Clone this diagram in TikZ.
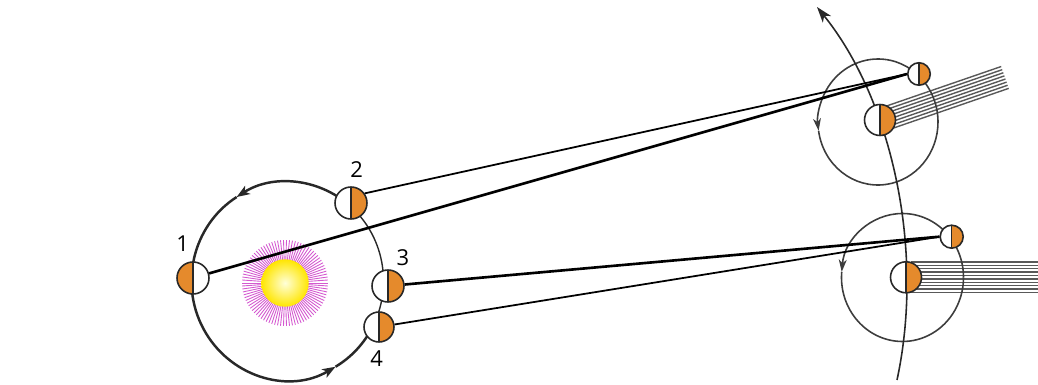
\documentclass[tikz,border=0pt]{standalone}
\usepackage{fontspec}
\setmainfont{Open Sans}
\usetikzlibrary{arrows.meta}
\definecolor{orangeside}{RGB}{229,138,44}
\definecolor{sunray}{RGB}{204,60,200}
\definecolor{darkline}{RGB}{40,40,40}
\tikzstyle{planet} = [circle, draw=darkline, line width=0.9pt, fill=white, inner sep=0pt, minimum size=0.64cm]
\tikzstyle{small_planet} = [planet, minimum size=0.45cm]
\tikzstyle{lit_right} = [path picture={\fill[orangeside] (path picture bounding box.north) rectangle (path picture bounding box.south east); \draw[darkline, line width=0.7pt] (path picture bounding box.north) -- (path picture bounding box.south);}]
\tikzstyle{lit_left} = [path picture={\fill[orangeside] (path picture bounding box.north) rectangle (path picture bounding box.south west); \draw[darkline, line width=0.7pt] (path picture bounding box.north) -- (path picture bounding box.south);}]
\tikzstyle{sun_core} = [circle, inner sep=0pt, minimum size=0.95cm, inner color=yellow!15!white, outer color=yellow!80!orange]
\tikzstyle{sun_ray} = [sunray!85, line width=0.5pt]
\tikzstyle{orbit_thick} = [darkline, line width=1.4pt, >={Stealth[length=7.5pt,width=5.5pt,inset=2pt]}]
\tikzstyle{orbit_thin} = [darkline, line width=0.8pt]
\tikzstyle{sight_thick} = [black, line width=1.5pt]
\tikzstyle{sight_thin} = [black, line width=1.0pt]
\tikzstyle{moon_orbit} = [darkline!90, line width=0.9pt, >={Stealth[length=7pt,width=4.5pt,inset=2pt]}]
\tikzstyle{track_line} = [darkline, line width=0.9pt, >={Stealth[length=9pt,width=6pt,inset=2.5pt]}]
\tikzstyle{ray_line} = [black!65, line width=0.8pt]
\tikzstyle{num_label} = [inner sep=1pt, font=\fontsize{12.5}{14}\selectfont]

\begin{document}
\begin{tikzpicture}[x=0.02cm, y=0.02cm]
\useasboundingbox (0,0) rectangle (1038,385);

% the sun
\foreach \a in {0,4,...,356}
	\draw[sun_ray] (285,102) ++(\a:19) -- ++(\a:24);
\node (sun) [sun_core] at (285,102) {};

% orbit round the sun
\coordinate (orbit_c) at (287.5,104);
\draw[orbit_thick, ->] (orbit_c) ++(50:96 and 99) arc[start angle=50, end angle=122, x radius=96, y radius=99];
\draw[orbit_thick, ->] (orbit_c) ++(122:96 and 99) arc[start angle=122, end angle=300, x radius=96, y radius=99];
\draw[orbit_thick] (orbit_c) ++(300:96 and 99) arc[start angle=300, end angle=333, x radius=96, y radius=99];
\draw[orbit_thin] (orbit_c) ++(333:96 and 99) arc[start angle=333, end angle=410, x radius=96, y radius=99];

% light from the far side
\begin{scope}[shift={(880,265)}, rotate=19]
	\foreach \k in {0,...,7}
		\draw[ray_line] (6,-12+3.3*\k) -- (132,-12+3.3*\k);
\end{scope}
\foreach \k in {0,...,9}
	\draw[ray_line] (911,92.5+3.4*\k) -- (1038,92.5+3.4*\k);

% small orbits with arrows
\coordinate (ca) at (878,263);
\coordinate (cb) at (902.5,107.5);
\draw[moon_orbit, ->] (ca) ++(0:60 and 63) arc[start angle=0, end angle=188, x radius=60, y radius=63];
\draw[moon_orbit] (ca) ++(188:60 and 63) arc[start angle=188, end angle=360, x radius=60, y radius=63];
\draw[moon_orbit, ->] (cb) ++(0:61 and 64) arc[start angle=0, end angle=175, x radius=61, y radius=64];
\draw[moon_orbit] (cb) ++(175:61 and 64) arc[start angle=175, end angle=360, x radius=61, y radius=64];

% long track
\coordinate (track_top) at (817,378);
\coordinate (track_bot) at (897,5);
\draw[track_line, <-] (track_top) .. controls (892,285) and (925,135) .. (track_bot);

% planets
\node (e1) [planet, lit_left] at (193,107) {};
\node (e2) [planet, lit_right] at (351,182) {};
\node (e3) [planet, lit_right] at (388,99) {};
\node (e4) [planet, lit_right, minimum size=0.6cm] at (379,58) {};
\node (planet_up) [planet, lit_right, minimum size=0.62cm] at (880,265) {};
\node (moon_up) [small_planet, lit_right] at (919,311) {};
\node (planet_down) [planet, lit_right, minimum size=0.62cm] at (906,107.7) {};
\node (moon_down) [small_planet, lit_right, minimum size=0.46cm] at (951.7,148.3) {};

% lines of sight
\draw[sight_thick] (e1) -- (moon_up.west);
\draw[sight_thin] (e2.35) -- (moon_up.west);
\draw[sight_thick] (e3) -- (moon_down.west);
\draw[sight_thin] (e4) -- (moon_down.west);

\node (n1) [num_label] at (182.7,141.7) {1};
\node (n2) [num_label] at (356.7,215) {2};
\node (n3) [num_label] at (403,127) {3};
\node (n4) [num_label] at (376.7,26) {4};
\end{tikzpicture}
\end{document}
